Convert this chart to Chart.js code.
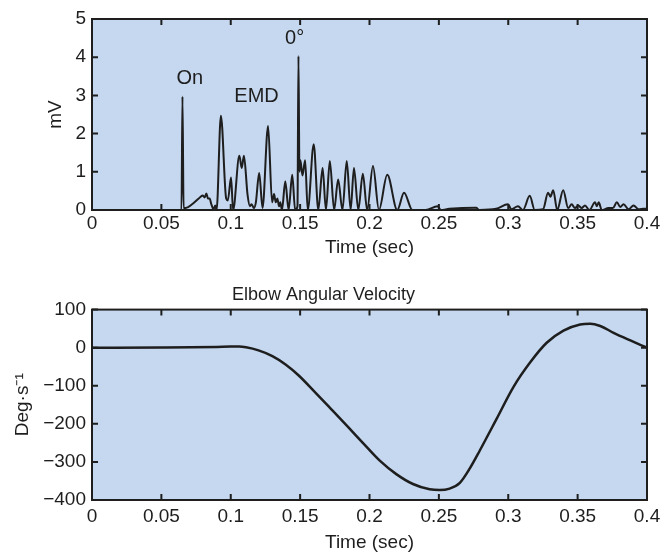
<!DOCTYPE html>
<html>
<head>
<meta charset="utf-8">
<script src="https://cdn.jsdelivr.net/npm/chart.js@4.4.0/dist/chart.umd.min.js"></script>
<style>
  body { margin: 0; background: #fff; }
  .box { position: absolute; left: 0; width: 672px; }
</style>
</head>
<body>
<div class="box" style="top:0;height:270px"><canvas id="emgChart"></canvas></div>
<div class="box" style="top:270px;height:284px"><canvas id="velChart"></canvas></div>
<script>
// EMG (mV) against time (sec)
const emgTime = [
  0, 0.0638, 0.0645, 0.0652, 0.066, 0.0674, 0.0721, 0.0769, 0.0798, 0.0812,
  0.0824, 0.0836, 0.0848, 0.086, 0.0876, 0.0888, 0.0898, 0.0929, 0.0967, 0.0979,
  0.1002, 0.1017, 0.1062, 0.1079, 0.1095, 0.1121, 0.1138, 0.115, 0.1167, 0.1181,
  0.1205, 0.1229, 0.1269, 0.1298, 0.1312, 0.1324, 0.1336, 0.1348, 0.1357, 0.1369,
  0.1393, 0.1417, 0.1443, 0.1464, 0.1481, 0.1488, 0.1495, 0.1502, 0.1517, 0.1536,
  0.1555, 0.1598, 0.1631, 0.1662, 0.1686, 0.1714, 0.1745, 0.1774, 0.1805, 0.1836,
  0.1864, 0.1888, 0.1919, 0.1952, 0.1983, 0.2025, 0.2068, 0.2128, 0.22, 0.2249,
  0.2309, 0.2406, 0.249, 0.2514, 0.2575, 0.2768, 0.2792, 0.2913, 0.2998, 0.3022,
  0.307, 0.3106, 0.3155, 0.3191, 0.3251, 0.3287, 0.3304, 0.3324, 0.3353, 0.3396,
  0.3432, 0.3457, 0.3481, 0.3505, 0.3529, 0.3553, 0.3585, 0.3626, 0.3638, 0.3652,
  0.3674, 0.3722, 0.3754, 0.3783, 0.3807, 0.3831, 0.3867, 0.3903, 0.394, 0.3976,
  0.4
];
const emgValue = [
  0, 0, 0, 2.97, 0.05, 0.05, 0.15, 0.3, 0.38, 0.33,
  0.43, 0.3, 0.3, 0.15, 0.02, 0.12, 0, 2.47, 0.3, 0.25,
  0.85, 0, 1.42, 1.1, 1.42, 0.4, 0.1, 0.15, 0.05, 0.2,
  0.97, 0.05, 2.2, 0.2, 0.42, 0.2, 0.3, 0.1, 0.2, 0,
  0.75, 0, 0.92, 0, 0.1, 4.03, 1.0, 1.3, 0.9, 1.3,
  0, 1.72, 0, 1.1, 0, 1.28, 0, 0.8, 0, 1.28,
  0, 1.1, 0, 0.95, 0, 1.15, 0, 0.92, 0, 0.45,
  0, 0, 0.1, 0, 0.03, 0.06, 0, 0.03, 0.15, 0.02,
  0.1, 0, 0.37, 0, 0.02, 0.45, 0.35, 0.52, 0, 0.52,
  0.05, 0.15, 0.05, 0.12, 0.05, 0.12, 0, 0.2, 0.1, 0.2,
  0, 0.05, 0.05, 0.2, 0.08, 0.15, 0.02, 0.12, 0.02, 0.03,
  0.03
];

// Elbow angular velocity (deg/s) against time (sec)
const velTime = [
  0, 0.05, 0.09, 0.1, 0.106, 0.111, 0.12, 0.13, 0.1395, 0.149,
  0.161, 0.172, 0.185, 0.1952, 0.2072, 0.2193, 0.2313, 0.2434, 0.2506, 0.2578,
  0.2651, 0.2723, 0.2795, 0.2916, 0.3036, 0.3157, 0.3277, 0.3398, 0.3518, 0.359,
  0.3663, 0.3759, 0.388, 0.4
];
const velValue = [
  0, 0.5, 2, 3, 3, 1, -7, -22, -44, -73,
  -118, -160, -210, -250, -296, -332, -358, -372, -374, -370,
  -355, -317, -270, -187, -104, -39, 13, 45, 61, 63,
  57, 39, 19, 0
];

// labels written on the EMG panel, at data coordinates
const noteText = ['On', 'EMD', '0\u00b0'];
const noteTime = [0.0705, 0.1186, 0.146];
const noteValue = [3.43, 2.98, 4.48];

const FONT = '"Liberation Sans", Arial, sans-serif';
const INK = '#1e1e1e';
const PANEL = '#c5d8ef';

const toPoints = (xs, ys) => xs.map((x, i) => ({ x: x, y: ys[i] }));
const fmtTime = v => String(+v.toFixed(2));
const fmtMinus = v => (v < 0 ? '\u2212' + Math.abs(v) : String(v));

// blue panel, frame and inward ticks on all four sides
const framePlugin = {
  id: 'frame',
  beforeDatasetsDraw(chart) {
    const { ctx, chartArea: a } = chart;
    ctx.save();
    ctx.fillStyle = PANEL;
    ctx.fillRect(a.left, a.top, a.width, a.height);
    ctx.restore();
  },
  afterDatasetsDraw(chart) {
    const { ctx, chartArea: a, scales } = chart;
    const len = 6;
    ctx.save();
    ctx.strokeStyle = INK;
    ctx.lineWidth = 2;
    ctx.beginPath();
    scales.x.ticks.forEach(t => {
      const px = scales.x.getPixelForValue(t.value);
      ctx.moveTo(px, a.bottom); ctx.lineTo(px, a.bottom - len);
      ctx.moveTo(px, a.top); ctx.lineTo(px, a.top + len);
    });
    scales.y.ticks.forEach(t => {
      const py = scales.y.getPixelForValue(t.value);
      ctx.moveTo(a.left, py); ctx.lineTo(a.left + len, py);
      ctx.moveTo(a.right, py); ctx.lineTo(a.right - len, py);
    });
    ctx.stroke();
    ctx.strokeRect(a.left, a.top, a.width, a.height);
    ctx.restore();
  }
};

const notesPlugin = {
  id: 'notes',
  afterDatasetsDraw(chart) {
    const { ctx, scales } = chart;
    ctx.save();
    ctx.fillStyle = INK;
    ctx.font = '20px ' + FONT;
    ctx.textAlign = 'center';
    ctx.textBaseline = 'middle';
    noteText.forEach((txt, i) => {
      ctx.fillText(txt, scales.x.getPixelForValue(noteTime[i]), scales.y.getPixelForValue(noteValue[i]));
    });
    ctx.restore();
  }
};

const axisFont = { family: FONT, size: 19 };

const xScale = (boxHeight, labelPad, titlePad) => ({
  type: 'linear',
  min: 0,
  max: 0.4,
  grid: { display: false, drawTicks: false },
  border: { display: false },
  ticks: { stepSize: 0.05, padding: labelPad, color: INK, font: axisFont, maxRotation: 0, autoSkip: false, callback: fmtTime },
  title: { display: true, text: 'Time (sec)', color: INK, font: axisFont, padding: { top: 0, bottom: titlePad } },
  afterFit: s => { s.height = boxHeight; }
});

const makeChart = (id, points, lineWidth, yOpts, extra) => new Chart(document.getElementById(id), {
  type: 'line',
  data: {
    datasets: [{
      data: points,
      borderColor: INK,
      borderWidth: lineWidth,
      pointRadius: 0,
      fill: false,
      cubicInterpolationMode: 'monotone'
    }]
  },
  options: Object.assign({
    responsive: true,
    maintainAspectRatio: false,
    animation: false,
    plugins: { legend: { display: false }, tooltip: { enabled: false } },
    scales: { x: extra.x, y: yOpts }
  }, extra.options),
  plugins: extra.plugins
});

window.addEventListener('load', () => {
  makeChart('emgChart', toPoints(emgTime, emgValue), 2, {
    min: 0,
    max: 5,
    grid: { display: false, drawTicks: false },
    border: { display: false },
    ticks: { stepSize: 1, padding: 6, color: INK, font: axisFont },
    title: { display: true, text: 'mV', color: INK, font: axisFont, padding: { top: 44, bottom: 0 } },
    afterFit: s => { s.width = 92; }
  }, {
    x: xScale(60, 2, 11),
    options: { layout: { padding: { top: 19, right: 25, left: 0, bottom: 0 } } },
    plugins: [framePlugin, notesPlugin]
  });

  makeChart('velChart', toPoints(velTime, velValue), 2.5, {
    min: -400,
    max: 100,
    grid: { display: false, drawTicks: false },
    border: { display: false },
    ticks: { stepSize: 100, padding: 6, color: INK, font: axisFont, callback: fmtMinus },
    title: { display: true, text: 'Deg\u00b7s\u207b\u00b9', color: INK, font: axisFont, padding: { top: 11, bottom: 0 } },
    afterFit: s => { s.width = 92; }
  }, {
    x: xScale(54, 5, 0),
    options: {
      layout: { padding: { top: 0, right: 25, left: 0, bottom: 0 } },
      plugins: {
        legend: { display: false },
        tooltip: { enabled: false },
        title: { display: true, text: 'Elbow Angular Velocity', color: INK, font: { family: FONT, size: 18, weight: 'normal' }, padding: { top: 14, bottom: 4 } }
      }
    },
    plugins: [framePlugin]
  });
});
</script>
</body>
</html>
